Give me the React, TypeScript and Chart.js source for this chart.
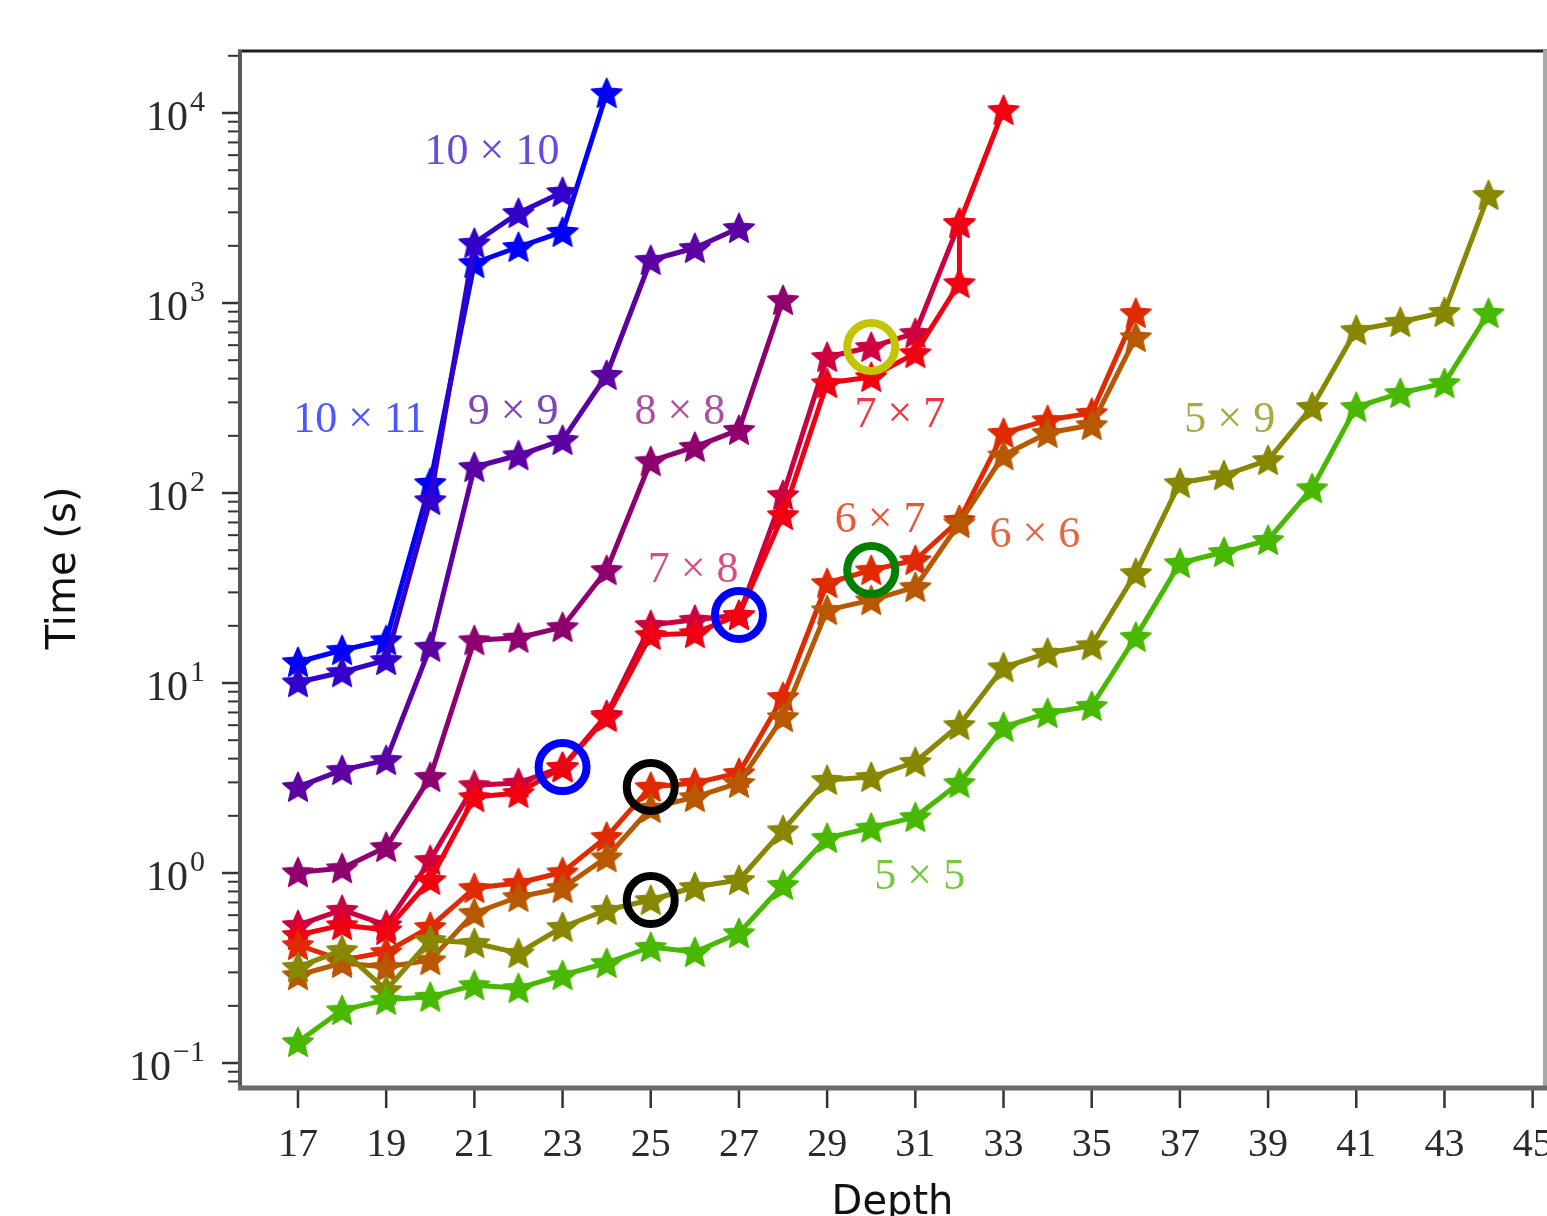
import React, { useEffect, useRef } from 'react';
import { Chart, registerables } from 'chart.js';

Chart.register(...registerables);

// ---------------- data (Depth -> Time in seconds) ----------------
const depths10x11 = [17, 18, 19, 20, 21, 22, 23, 24];
const times10x11 = [12.9, 14.9, 16.8, 113, 1624, 1972, 2365, 12740];

const depths10x10 = [17, 18, 19, 20, 21, 22, 23];
const times10x10 = [10.1, 11.4, 13.2, 91.8, 2069, 2977, 3839];

const depths9x9 = [17, 18, 19, 20, 21, 22, 23, 24, 25, 26, 27];
const times9x9 = [2.84, 3.48, 3.93, 15.5, 137, 158, 190, 418, 1684, 1947, 2482];

const depths8x8 = [17, 18, 19, 20, 21, 22, 23, 24, 25, 26, 27, 28];
const times8x8 = [1.01, 1.06, 1.37, 3.2, 16.8, 17.3, 19.7, 39.3, 147, 175, 215, 1037];

const depths7x8 = [17, 18, 19, 20, 21, 22, 23, 24, 25, 26, 27, 28, 29, 30, 31, 32];
const times7x8 = [0.532, 0.639, 0.532, 1.17, 2.9, 2.98, 3.61, 6.79, 20.2, 21.5, 22.8, 97.6, 520, 587, 695, 2636];

const depths7x7 = [17, 18, 19, 20, 21, 22, 23, 24, 25, 26, 27, 28, 29, 30, 31, 32, 32, 33];
const times7x7 = [0.472, 0.532, 0.501, 0.919, 2.51, 2.64, 3.61, 6.62, 17.9, 18.3, 22.8, 76.6, 379, 408, 545, 1274, 2636, 10370];

const depths6x7 = [17, 18, 19, 20, 21, 22, 23, 24, 25, 26, 27, 28, 29, 30, 31, 32, 33, 34, 35, 36];
const times6x7 = [0.418, 0.348, 0.384, 0.52, 0.834, 0.886, 1.01, 1.55, 2.84, 2.98, 3.36, 8.44, 33.6, 39.3, 44.4, 72.1, 207, 242, 264, 886];

const depths6x6 = [17, 18, 19, 20, 21, 22, 23, 24, 25, 26, 27, 28, 29, 30, 31, 32, 33, 34, 35, 36];
const times6x6 = [0.29, 0.336, 0.32, 0.348, 0.616, 0.748, 0.834, 1.21, 2.2, 2.51, 2.98, 6.62, 24.2, 27.3, 32.0, 69.5, 158, 207, 228, 662];

const depths5x9 = [17, 18, 19, 20, 21, 22, 23, 24, 25, 26, 27, 28, 29, 30, 31, 32, 33, 34, 35, 36, 37, 38, 39, 40, 41, 42, 43, 44];
const times5x9 = [0.32, 0.393, 0.242, 0.444, 0.428, 0.379, 0.52, 0.639, 0.721, 0.844, 0.919, 1.68, 3.09, 3.2, 3.84, 6.01, 12.1, 14.4, 15.8, 37.9, 113, 124, 149, 284, 721, 794, 897, 3700];

const depths5x5 = [17, 18, 19, 20, 21, 22, 23, 24, 25, 26, 27, 28, 29, 30, 31, 32, 33, 34, 35, 36, 37, 38, 39, 40, 41, 42, 43, 44];
const times5x5 = [0.129, 0.19, 0.215, 0.223, 0.257, 0.248, 0.29, 0.336, 0.408, 0.384, 0.483, 0.865, 1.53, 1.73, 1.97, 2.98, 5.87, 6.95, 7.57, 17.5, 42.8, 48.9, 56.6, 106, 284, 336, 379, 886];

// series (drawn bottom -> top)
const seriesNames = ['10 × 11', '10 × 10', '9 × 9', '8 × 8', '7 × 8', '7 × 7', '6 × 7', '6 × 6', '5 × 9', '5 × 5'];
const seriesColors = ['#0000ff', '#3300cc', '#5c00a3', '#8f006e', '#cc0040', '#f00010', '#e02a00', '#b85800', '#878700', '#48b800'];
const seriesDepths = [depths10x11, depths10x10, depths9x9, depths8x8, depths7x8, depths7x7, depths6x7, depths6x6, depths5x9, depths5x5];
const seriesTimes = [times10x11, times10x10, times9x9, times8x8, times7x8, times7x7, times6x7, times6x6, times5x9, times5x5];

// highlighted points (hollow circles)
const circleDepths = [23, 27, 30, 30, 25, 25];
const circleTimes = [3.61, 22.8, 587, 39.3, 2.84, 0.721];
const circleColors = ['#0000ff', '#0000ff', '#c4c400', '#008000', '#000000', '#000000'];

// in-plot series labels (anchored in data coordinates)
const labelTexts = ['10 × 10', '10 × 11', '9 × 9', '8 × 8', '7 × 8', '7 × 7', '6 × 7', '6 × 6', '5 × 9', '5 × 5'];
const labelDepths = [21.4, 18.4, 21.88, 25.66, 25.96, 30.65, 30.2, 33.71, 38.13, 31.1];
const labelTimes = [6237, 242, 264, 267, 39.3, 257, 72, 60, 242, 0.953];
const labelColors = ['#4a2ad6', '#2a3aff', '#6a22b0', '#a0308a', '#d0306a', '#f01020', '#e53a10', '#e04a20', '#9a9a20', '#5cbf20'];

// axes
const xTickValues = [17, 19, 21, 23, 25, 27, 29, 31, 33, 35, 37, 39, 41, 43, 45];
const xTickLabels = ['17', '19', '21', '23', '25', '27', '29', '31', '33', '35', '37', '39', '41', '43', '45'];
const yTickValues = [0.1, 1, 10, 100, 1000, 10000];
const yTickExponents = ['−1', '0', '1', '2', '3', '4'];
const xMin = 15.685;
const xMax = 45.28;
const yMin = 0.0757;
const yMax = 21460;

function makeStar(color: string, r: number): HTMLCanvasElement {
  const size = Math.ceil(r * 2 + 4);
  const c = document.createElement('canvas');
  c.width = size;
  c.height = size;
  const g = c.getContext('2d') as CanvasRenderingContext2D;
  g.translate(size / 2, size / 2 + r * 0.08);
  g.beginPath();
  for (let i = 0; i < 10; i++) {
    const rad = i % 2 === 0 ? r : r * 0.46;
    const a = -Math.PI / 2 + (i * Math.PI) / 5;
    const px = Math.cos(a) * rad;
    const py = Math.sin(a) * rad;
    if (i === 0) g.moveTo(px, py);
    else g.lineTo(px, py);
  }
  g.closePath();
  g.fillStyle = color;
  g.fill();
  g.lineWidth = 1.5;
  g.strokeStyle = color;
  g.lineJoin = 'round';
  g.stroke();
  return c;
}

const decorPlugin = {
  id: 'decor',
  beforeDatasetsDraw(chart: any) {
    const { ctx, chartArea: a, scales } = chart;
    const xs = scales.x;
    const ys = scales.y;
    ctx.save();
    ctx.strokeStyle = '#333';
    ctx.lineCap = 'butt';
    for (let e = -2; e <= 5; e++) {
      for (let k = 1; k <= 9; k++) {
        const v = k * Math.pow(10, e);
        if (v < ys.min || v > ys.max) continue;
        const py = ys.getPixelForValue(v);
        const major = k === 1;
        ctx.lineWidth = major ? 2.5 : 2;
        ctx.beginPath();
        ctx.moveTo(a.left - (major ? 18 : 12), py);
        ctx.lineTo(a.left, py);
        ctx.stroke();
      }
    }
    ctx.lineWidth = 2.5;
    for (const t of xTickValues) {
      const px = xs.getPixelForValue(t);
      ctx.beginPath();
      ctx.moveTo(px, a.bottom + 2);
      ctx.lineTo(px, a.bottom + 22);
      ctx.stroke();
    }
    // x tick labels
    ctx.fillStyle = '#2a2a2a';
    ctx.font = '40px "Liberation Serif"';
    ctx.textAlign = 'center';
    ctx.textBaseline = 'alphabetic';
    xTickValues.forEach((t, i) => {
      ctx.fillText(xTickLabels[i], xs.getPixelForValue(t), a.bottom + 70);
    });
    // y tick labels: 10 with superscript exponent
    yTickValues.forEach((v, i) => {
      const py = ys.getPixelForValue(v);
      const right = a.left - 35;
      ctx.font = '30px "Liberation Serif"';
      ctx.textAlign = 'right';
      const expW = ctx.measureText(yTickExponents[i]).width;
      ctx.fillText(yTickExponents[i], right, py - 2);
      ctx.font = '42px "Liberation Serif"';
      ctx.fillText('10', right - expW - 2, py + 17);
    });
    // frame
    ctx.lineWidth = 3;
    ctx.strokeStyle = '#1e1e1e';
    ctx.beginPath();
    ctx.moveTo(a.left - 2, a.top + 1);
    ctx.lineTo(a.right + 2, a.top + 1);
    ctx.stroke();
    ctx.lineWidth = 4;
    ctx.strokeStyle = '#a8a8a8';
    ctx.beginPath();
    ctx.moveTo(a.right, a.top);
    ctx.lineTo(a.right, a.bottom + 2);
    ctx.stroke();
    ctx.strokeStyle = '#5a5a5a';
    ctx.beginPath();
    ctx.moveTo(a.left, a.top);
    ctx.lineTo(a.left, a.bottom + 4);
    ctx.stroke();
    ctx.lineWidth = 5;
    ctx.strokeStyle = '#6a6a6a';
    ctx.beginPath();
    ctx.moveTo(a.left - 2, a.bottom + 2);
    ctx.lineTo(a.right + 2, a.bottom + 2);
    ctx.stroke();
    ctx.restore();
  },
  afterDatasetsDraw(chart: any) {
    const { ctx, scales } = chart;
    ctx.save();
    ctx.font = '44px "Liberation Serif"';
    ctx.textAlign = 'center';
    ctx.textBaseline = 'middle';
    ctx.globalAlpha = 0.85;
    labelTexts.forEach((t, i) => {
      ctx.fillStyle = labelColors[i];
      ctx.fillText(t, scales.x.getPixelForValue(labelDepths[i]), scales.y.getPixelForValue(labelTimes[i]));
    });
    ctx.restore();
  },
};

export default function App() {
  const ref = useRef<HTMLCanvasElement>(null);

  useEffect(() => {
    const canvas = ref.current;
    if (!canvas) return;

    const lineSets: any[] = seriesNames.map((name, i) => ({
      label: name,
      data: seriesDepths[i].map((d, j) => ({ x: d, y: seriesTimes[i][j] })),
      borderColor: seriesColors[i],
      backgroundColor: seriesColors[i],
      borderWidth: 5,
      borderJoinStyle: 'round',
      borderCapStyle: 'round',
      pointStyle: makeStar(seriesColors[i], 16),
      pointRadius: 15,
      tension: 0,
      order: seriesNames.length - i,
    }));

    const circleSet: any = {
      label: 'highlight',
      data: circleDepths.map((d, j) => ({ x: d, y: circleTimes[j] })),
      showLine: false,
      pointStyle: 'circle',
      pointRadius: 24,
      pointBorderWidth: 8,
      pointBackgroundColor: 'rgba(0,0,0,0)',
      pointBorderColor: circleColors,
      order: 0,
    };

    const chart = new Chart(canvas, {
      type: 'line',
      data: { datasets: [...lineSets, circleSet] },
      options: {
        animation: false,
        responsive: false,
        devicePixelRatio: 1,
        layout: { autoPadding: false, padding: { top: 50, right: 2, bottom: 0, left: 0 } },
        plugins: {
          legend: { display: false },
          tooltip: { enabled: false },
        },
        scales: {
          x: {
            type: 'linear',
            min: xMin,
            max: xMax,
            bounds: 'data',
            grid: { display: false, drawTicks: false },
            border: { display: false },
            afterBuildTicks: (scale: any) => {
              scale.ticks = xTickValues.map((v) => ({ value: v }));
            },
            afterFit: (scale: any) => {
              scale.height = 130;
              scale.paddingLeft = 0;
              scale.paddingRight = 0;
            },
            ticks: { display: false },
            title: {
              display: true,
              text: 'Depth',
              color: '#111',
              font: { family: 'DejaVu Sans', size: 40 },
              padding: { top: 0, bottom: -12 },
            },
          },
          y: {
            type: 'logarithmic',
            min: yMin,
            max: yMax,
            bounds: 'data',
            grid: { display: false, drawTicks: false },
            border: { display: false },
            afterBuildTicks: (scale: any) => {
              scale.ticks = yTickValues.map((v) => ({ value: v }));
            },
            afterFit: (scale: any) => {
              scale.width = 240;
              scale.paddingTop = 0;
              scale.paddingBottom = 0;
            },
            ticks: { display: false },
            title: {
              display: true,
              text: 'Time (s)',
              color: '#111',
              font: { family: 'DejaVu Sans', size: 40 },
              padding: { top: 41, bottom: 0 },
            },
          },
        },
      } as any,
      plugins: [decorPlugin],
    });

    return () => chart.destroy();
  }, []);

  return (
    <div style={{ position: 'fixed', left: 0, top: 0, width: 1547, height: 1216, background: '#fff' }}>
      <canvas ref={ref} width={1547} height={1216} style={{ display: 'block', width: 1547, height: 1216 }} />
    </div>
  );
}
